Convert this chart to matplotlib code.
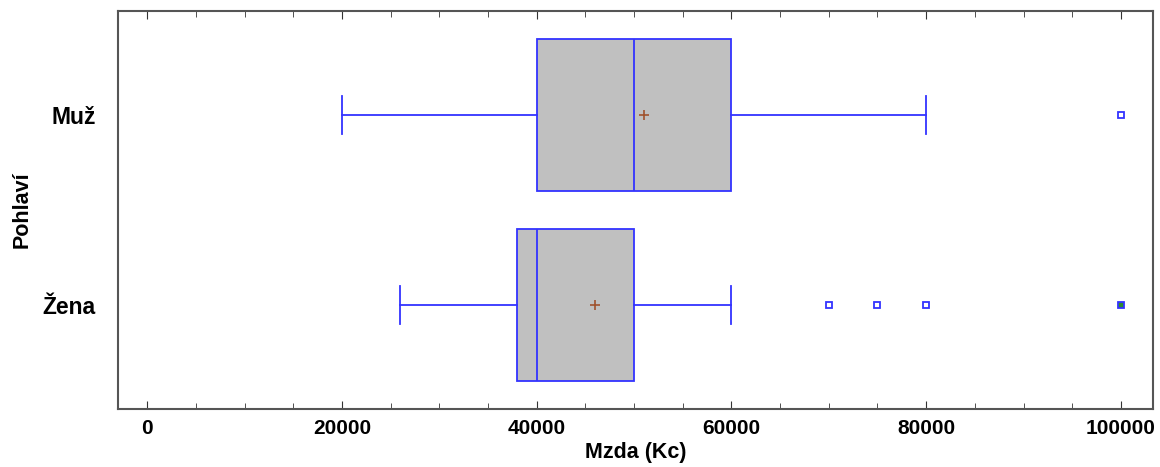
import matplotlib

matplotlib.use("Agg")
import matplotlib.pyplot as plt

# data (Mzda in Kc)
groups = ["Muž", "Žena"]
positions = [1, 0]
whisker_lo = [20000, 26000]
q1 = [40000, 38000]
median = [50000, 40000]
q3 = [60000, 50000]
whisker_hi = [80000, 60000]
means = [51000, 46000]
outliers = [[], [70000, 75000, 80000]]
far_outliers = [[100000], [100000]]
far_filled = [False, True]

plt.rcParams["font.family"] = ["Liberation Sans", "DejaVu Sans"]
plt.rcParams["font.weight"] = "bold"

blue = "#3333ff"
fig = plt.figure(figsize=(11.6, 4.67), dpi=100)
ax = fig.add_axes([0.1017, 0.124, 0.8923, 0.8524])

stats = []
for i, g in enumerate(groups):
    stats.append(dict(label=g, whislo=whisker_lo[i], q1=q1[i], med=median[i],
                      q3=q3[i], whishi=whisker_hi[i], fliers=outliers[i], mean=means[i]))

ax.bxp(stats, positions=positions, vert=False, widths=0.8, patch_artist=True,
       showmeans=True, showcaps=True, showfliers=True,
       boxprops=dict(facecolor="#c0c0c0", edgecolor=blue, linewidth=1.3),
       medianprops=dict(color=blue, linewidth=1.3),
       whiskerprops=dict(color=blue, linewidth=1.3),
       capprops=dict(color=blue, linewidth=1.3),
       capwidths=0.2,
       meanprops=dict(marker="+", markeredgecolor="#a0522d", markersize=7, markeredgewidth=1.2),
       flierprops=dict(marker="s", markerfacecolor="white", markeredgecolor=blue,
                       markersize=5, markeredgewidth=1.3))

for i, pos in enumerate(positions):
    for v in far_outliers[i]:
        ax.plot(v, pos, marker="s", linestyle="none", markersize=5, markeredgewidth=1.3,
                markeredgecolor=blue, markerfacecolor="#2e8b2e" if far_filled[i] else "white")

ax.set_xlim(-3000, 103300)
ax.set_ylim(-0.55, 1.55)
ax.set_yticks(positions)
ax.set_yticklabels(groups, fontsize=16.5, fontweight="bold")
ax.tick_params(axis="y", length=0, pad=16)
ax.set_xticks([0, 20000, 40000, 60000, 80000, 100000])
ax.set_xticks(range(0, 100001, 5000), minor=True)
ax.tick_params(axis="x", which="major", direction="in", length=6, top=True, labelsize=15, pad=7, color="#333333")
ax.tick_params(axis="x", which="minor", direction="in", length=4, top=True, color="#333333")
for lab in ax.get_xticklabels():
    lab.set_fontweight("bold")
ax.set_xlabel("Mzda (Kc)", fontsize=15.5, fontweight="bold", labelpad=3)
ax.set_ylabel("Pohlaví", fontsize=15.5, fontweight="bold")
ax.yaxis.set_label_coords(-0.082, 0.5)
for s in ax.spines.values():
    s.set_color("#555555")
    s.set_linewidth(1.5)

fig.savefig("out.png", dpi=100)
